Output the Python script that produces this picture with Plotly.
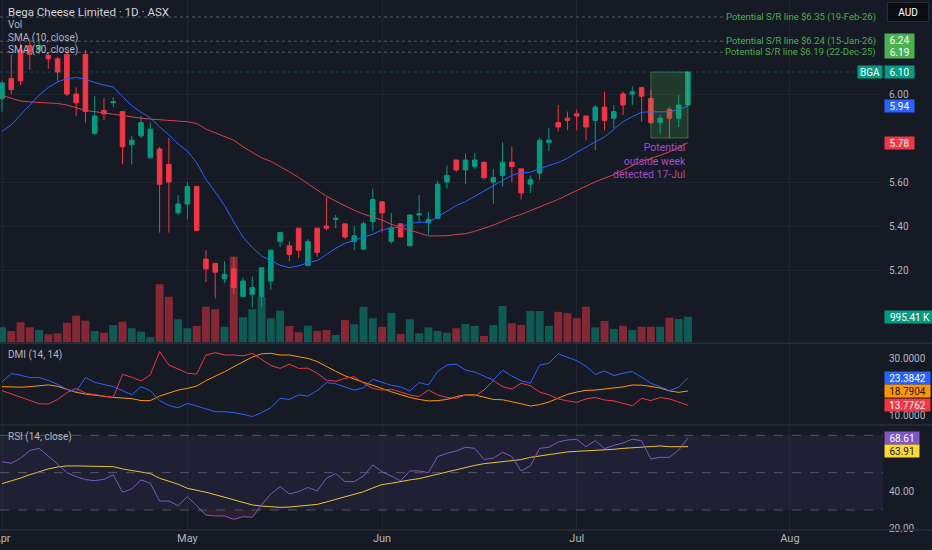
import numpy as np
import pandas as pd
import plotly.graph_objects as go

# ---------------- data ----------------
holidays = ["2026-04-03", "2026-04-06", "2026-06-08"]
month_labels = ["Apr", "May", "Jun", "Jul", "Aug"]

opens = [5.98, 6.07, 6.20, 6.22, 6.20, 6.175, 6.16, 6.18, 6.00, 6.18,
         5.82, 5.925, 5.96, 5.92, 5.77, 5.81, 5.71, 5.75, 5.68, 5.46,
         5.50, 5.58, 5.25, 5.23, 5.16, 5.205, 5.08, 5.09, 5.08, 5.15,
         5.33, 5.31, 5.39, 5.22, 5.39, 5.40, 5.43, 5.41, 5.33, 5.295,
         5.42, 5.51, 5.33, 5.41, 5.31, 5.45, 5.415, 5.435, 5.60, 5.70,
         5.655, 5.67, 5.69, 5.60, 5.63, 5.69, 5.66, 5.59, 5.64, 5.78,
         5.87, 5.89, 5.91, 5.90, 5.88, 5.94, 5.89, 6.00, 6.00, 6.03,
         5.98, 5.87, 5.93, 5.89, 5.95]
highs = [6.06, 6.18, 6.23, 6.25, 6.25, 6.19, 6.17, 6.19, 6.03, 6.20,
         5.99, 5.98, 5.985, 5.92, 5.81, 5.90, 5.87, 5.76, 5.80, 5.54,
         5.60, 5.58, 5.29, 5.23, 5.24, 5.26, 5.165, 5.17, 5.21, 5.29,
         5.375, 5.33, 5.39, 5.34, 5.39, 5.53, 5.45, 5.41, 5.40, 5.42,
         5.57, 5.51, 5.46, 5.41, 5.45, 5.54, 5.465, 5.605, 5.675, 5.70,
         5.73, 5.73, 5.69, 5.66, 5.78, 5.76, 5.66, 5.63, 5.80, 5.845,
         5.95, 5.92, 5.93, 5.90, 5.95, 6.01, 5.95, 6.01, 6.035, 6.03,
         6.02, 5.905, 5.94, 5.995, 6.10]
lows = [5.92, 6.00, 6.04, 6.11, 6.18, 6.115, 6.06, 5.99, 5.90, 5.87,
        5.815, 5.88, 5.94, 5.68, 5.68, 5.80, 5.71, 5.37, 5.37, 5.45,
        5.43, 5.38, 5.145, 5.07, 5.14, 5.09, 5.08, 5.03, 5.03, 5.11,
        5.305, 5.24, 5.255, 5.22, 5.26, 5.38, 5.39, 5.34, 5.29, 5.29,
        5.38, 5.37, 5.32, 5.35, 5.31, 5.42, 5.36, 5.43, 5.57, 5.645,
        5.59, 5.66, 5.61, 5.50, 5.58, 5.60, 5.52, 5.55, 5.61, 5.74,
        5.83, 5.835, 5.835, 5.79, 5.745, 5.835, 5.845, 5.905, 5.95, 5.875,
        5.865, 5.82, 5.80, 5.85, 5.95]
closes = [6.05, 6.02, 6.06, 6.18, 6.22, 6.16, 6.10, 6.00, 5.96, 5.92,
          5.90, 5.91, 5.965, 5.76, 5.79, 5.87, 5.84, 5.59, 5.60, 5.50,
          5.58, 5.38, 5.205, 5.19, 5.18, 5.12, 5.15, 5.12, 5.21, 5.29,
          5.37, 5.27, 5.29, 5.33, 5.28, 5.39, 5.435, 5.35, 5.355, 5.41,
          5.52, 5.46, 5.39, 5.35, 5.45, 5.455, 5.43, 5.59, 5.63, 5.655,
          5.70, 5.70, 5.62, 5.62, 5.69, 5.67, 5.55, 5.61, 5.79, 5.79,
          5.85, 5.88, 5.90, 5.85, 5.94, 5.88, 5.92, 5.95, 6.01, 5.99,
          5.87, 5.89, 5.89, 5.95, 6.10]
volume_k = [586, 444, 779, 586, 482, 316, 355, 764, 1034, 841,
            444, 378, 675, 802, 548, 417, 201, 2245, 1767, 895,
            548, 637, 1381, 1281, 610, 3310, 972, 1281, 1767, 934,
            1227, 637, 394, 648, 444, 482, 289, 868, 702, 1381,
            934, 610, 1150, 328, 895, 355, 586, 444, 378, 548,
            714, 637, 251, 675, 1408, 741, 675, 1215, 1215, 637,
            1188, 1127, 934, 1381, 586, 829, 521, 648, 482, 610,
            610, 610, 957, 907, 995.41]
# SMA values before enough closes exist in the window
sma10_head = [5.83, 5.86, 5.905, 5.95, 5.995, 6.03, 6.055, 6.07, 6.075]
sma30_head = [5.993, 5.98, 5.968, 5.964, 5.961, 5.959, 5.957, 5.95, 5.936, 5.925,
              5.92, 5.914, 5.905, 5.90, 5.894, 5.89, 5.886, 5.882, 5.879, 5.877,
              5.874, 5.866, 5.84, 5.823, 5.807, 5.79, 5.76, 5.736, 5.71]
plus_di = [22.0, 24.9, 24.3, 23.5, 23.5, 22.5, 21.1, 19.4, 18.5, 23.5,
           21.8, 21.1, 20.3, 18.9, 17.4, 20.3, 18.9, 15.4, 13.7, 12.9,
           14.4, 13.5, 12.5, 11.5, 11.5, 11.2, 10.6, 9.8, 11.2, 12.9,
           16.2, 15.8, 17.4, 17.0, 18.9, 21.7, 21.3, 20.2, 19.1, 19.9,
           22.9, 21.8, 20.8, 20.2, 18.8, 21.7, 20.9, 25.6, 27.9, 28.2,
           26.1, 25.4, 24.0, 22.6, 26.1, 24.0, 22.4, 21.5, 27.9, 28.5,
           31.8, 30.6, 29.4, 27.5, 24.6, 25.8, 24.2, 25.0, 25.6, 23.6,
           21.5, 20.3, 18.9, 20.1, 23.3842]
minus_di = [18.9, 17.7, 16.5, 15.4, 14.3, 14.2, 15.8, 18.2, 19.7, 18.0,
            17.5, 17.0, 16.5, 24.6, 23.6, 22.3, 24.4, 32.6, 27.9, 26.5,
            25.0, 24.7, 31.4, 32.2, 31.4, 31.4, 31.1, 32.0, 30.0, 27.7,
            26.7, 28.2, 26.7, 26.8, 25.0, 22.6, 22.2, 23.2, 23.8, 21.5,
            19.7, 19.1, 19.4, 18.5, 17.4, 16.8, 19.1, 17.4, 16.5, 16.2,
            17.4, 17.0, 19.1, 22.4, 20.3, 19.4, 21.5, 20.6, 18.4, 17.4,
            16.0, 15.3, 14.8, 16.0, 16.5, 15.6, 15.3, 14.4, 13.6, 16.2,
            15.4, 16.5, 16.0, 14.9, 13.7762]
adx = [20.3, 20.1, 20.1, 20.3, 20.6, 20.9, 20.4, 19.4, 18.3, 17.7,
       17.4, 16.9, 16.5, 16.4, 16.1, 15.4, 15.4, 17.0, 18.1, 19.1,
       19.7, 20.5, 22.4, 23.9, 25.5, 27.3, 28.9, 30.7, 31.8, 32.0,
       31.4, 31.4, 30.8, 30.2, 29.1, 27.3, 25.7, 24.1, 22.9, 21.8,
       20.8, 19.6, 18.5, 17.5, 16.5, 15.8, 15.3, 15.4, 15.8, 16.8,
       17.4, 17.4, 16.5, 15.8, 15.7, 15.1, 14.3, 13.5, 14.0, 14.9,
       16.2, 17.6, 18.4, 19.0, 19.1, 19.4, 19.8, 20.2, 20.9, 20.8,
       20.4, 19.8, 18.8, 18.3, 18.7904]
rsi = [55.9, 55.0, 57.7, 61.8, 63.0, 58.9, 54.6, 50.0, 47.9, 46.3,
       45.7, 46.4, 48.8, 39.5, 41.3, 46.1, 44.3, 34.8, 34.8, 32.3,
       37.1, 32.3, 27.3, 26.8, 26.8, 25.0, 26.4, 26.1, 32.7, 38.6,
       42.5, 38.6, 39.8, 42.1, 40.2, 47.0, 49.5, 45.2, 45.2, 48.2,
       54.1, 50.5, 47.9, 45.7, 50.9, 50.9, 50.0, 58.6, 60.4, 61.6,
       63.6, 63.0, 57.1, 57.7, 60.9, 58.6, 50.9, 53.6, 63.0, 63.6,
       66.4, 67.5, 67.9, 63.9, 67.1, 62.9, 64.6, 65.9, 67.9, 67.1,
       57.3, 58.2, 58.2, 62.1, 68.61]
rsi_ma = [44.1, 45.5, 47.1, 48.9, 50.5, 52.0, 53.0, 53.6, 53.6, 53.6,
          53.6, 53.4, 53.2, 52.0, 51.1, 50.4, 49.5, 47.0, 45.4, 43.8,
          41.6, 40.7, 39.5, 38.2, 36.8, 35.4, 33.8, 32.7, 32.1, 31.6,
          31.4, 31.6, 32.0, 32.5, 33.0, 34.3, 35.7, 37.0, 38.2, 39.8,
          41.8, 43.6, 44.3, 45.4, 46.1, 46.8, 48.0, 49.1, 50.5, 51.8,
          52.7, 53.9, 54.8, 55.4, 55.9, 56.4, 57.0, 58.2, 58.9, 60.0,
          60.5, 61.1, 61.4, 61.6, 61.8, 62.0, 62.5, 63.0, 63.4, 63.9,
          64.1, 64.3, 63.9, 63.9, 63.91]
sr_levels = [6.35, 6.24, 6.19]
sr_dates = ["19-Feb-26", "15-Jan-26", "22-Dec-25"]
price_ticks = [5.20, 5.40, 5.60, 6.00]
dmi_ticks = [10, 30]
rsi_ticks = [20, 40]
rsi_bands = [70, 50, 30]

# ---------------- derived ----------------
cal = pd.bdate_range("2026-04-01", "2026-08-31")
cal = cal[~cal.isin(pd.to_datetime(holidays))]
n = len(closes)
dates = cal[:n]
x = np.arange(n)
month_pos = [int(np.argmax(cal.strftime("%b") == m)) for m in month_labels]

cs = pd.Series(closes)
sma10 = cs.rolling(10).mean().to_numpy()
sma10[:len(sma10_head)] = sma10_head
sma30 = cs.rolling(30).mean().to_numpy()
sma30[:len(sma30_head)] = sma30_head

up = [c >= o for o, c in zip(opens, closes)]
vol_colors = ["rgba(8,153,129,0.5)" if u else "rgba(242,54,69,0.5)" for u in up]

last_week = dates.isocalendar().week == dates[-1].isocalendar().week
wk_idx = x[np.asarray(last_week)]
wk_hi = max(np.array(highs)[wk_idx])
wk_lo = min(np.array(lows)[wk_idx])

# ---------------- geometry ----------------
H = 530.0  # plot area height (px)
def py(px):
    return 1 - px / H

BG = "#161a25"
GRID = "rgba(42,46,57,0.55)"
TXT = "#b2b5be"
FONT = "Roboto"
UP, DOWN = "#089981", "#f23645"

fig = go.Figure()

fig.add_trace(go.Bar(x=x, y=volume_k, marker=dict(color=vol_colors, line=dict(width=0)),
                     width=0.86, xaxis="x", yaxis="y", hoverinfo="skip"))
fig.add_trace(go.Candlestick(x=x, open=opens, high=highs, low=lows, close=closes,
                             increasing=dict(line=dict(color=UP, width=1), fillcolor=UP),
                             decreasing=dict(line=dict(color=DOWN, width=1), fillcolor=DOWN),
                             whiskerwidth=0, xaxis="x", yaxis="y2"))
fig.add_trace(go.Scatter(x=x, y=sma30, mode="lines", line=dict(color="#d9404b", width=1),
                         xaxis="x", yaxis="y2"))
fig.add_trace(go.Scatter(x=x, y=sma10, mode="lines", line=dict(color="#2962ff", width=1),
                         xaxis="x", yaxis="y2"))

fig.add_trace(go.Scatter(x=x, y=adx, mode="lines", line=dict(color="#ff9800", width=1), xaxis="x", yaxis="y3"))
fig.add_trace(go.Scatter(x=x, y=minus_di, mode="lines", line=dict(color="#f23645", width=1), xaxis="x", yaxis="y3"))
fig.add_trace(go.Scatter(x=x, y=plus_di, mode="lines", line=dict(color="#2962ff", width=1), xaxis="x", yaxis="y3"))

# oversold fill (RSI below 30)
fig.add_trace(go.Scatter(x=x, y=[30] * n, mode="lines", line=dict(width=0), xaxis="x", yaxis="y4"))
fig.add_trace(go.Scatter(x=x, y=np.minimum(rsi, 30), mode="lines", line=dict(width=0), fill="tonexty",
                         fillcolor="rgba(190,60,120,0.14)", xaxis="x", yaxis="y4"))
fig.add_trace(go.Scatter(x=x, y=rsi_ma, mode="lines", line=dict(color="#e8c53a", width=1), xaxis="x", yaxis="y4"))
fig.add_trace(go.Scatter(x=x, y=rsi, mode="lines", line=dict(color="#7e57c2", width=1), xaxis="x", yaxis="y4"))

shapes = []
# RSI band
shapes.append(dict(type="rect", xref="paper", x0=0, x1=1, yref="y4", y0=30, y1=70,
                   fillcolor="rgba(126,87,194,0.10)", line=dict(width=0), layer="below"))
for b in rsi_bands:
    shapes.append(dict(type="line", xref="paper", x0=0, x1=1, yref="y4", y0=b, y1=b,
                       line=dict(color="rgba(120,123,134,0.6)", width=1, dash="dash")))
# S/R dotted lines
for lv in sr_levels:
    shapes.append(dict(type="line", xref="paper", x0=0, x1=725 / 883, yref="y2", y0=lv, y1=lv,
                       line=dict(color="#5d606b", width=1, dash="dot")))
# last price line
shapes.append(dict(type="line", xref="paper", x0=0, x1=1, yref="y2", y0=closes[-1], y1=closes[-1],
                   line=dict(color="rgba(8,153,129,0.35)", width=1, dash="dot")))
# outside week box
shapes.append(dict(type="rect", xref="x", x0=wk_idx[0], x1=wk_idx[-1], yref="y2", y0=wk_lo, y1=wk_hi,
                   fillcolor="rgba(76,175,80,0.22)", line=dict(color="rgba(102,187,106,0.45)", width=1)))
# panel separators
for sp in [343.3, 425.0, 530.0]:
    shapes.append(dict(type="line", xref="paper", x0=0, x1=932 / 883, yref="paper", y0=py(sp), y1=py(sp),
                       line=dict(color="#2a2e39", width=1.5)))

ann = []
def legend_text(t, ypx, color=TXT, size=10):
    ann.append(dict(xref="paper", x=6 / 883, xanchor="left", yref="paper", y=py(ypx), yanchor="middle",
                    text=t, showarrow=False, font=dict(family=FONT, size=size, color=color)))

legend_text("Bega Cheese Limited · 1D · ASX", 12, "#d1d4dc", 11.5)
legend_text("Vol", 25)
legend_text("SMA (10, close)", 38)
legend_text("SMA (30, close)", 50)
legend_text("DMI (14, 14)", 355)
legend_text("RSI (14, close)", 437)

for lv, d in zip(sr_levels, sr_dates):
    ann.append(dict(xref="paper", x=878 / 883, xanchor="right", yref="y2", y=lv, yanchor="middle",
                    text=f"Potential S/R line ${lv:.2f} ({d})", showarrow=False,
                    font=dict(family=FONT, size=9.5, color="#4caf50")))

ann.append(dict(xref="x", x=wk_idx[-1], xanchor="right", yref="y2", y=wk_lo, yanchor="top", yshift=-1,
                text=f"Potential<br>outside week<br>detected {dates[-1].day}-{dates[-1].strftime('%b')}",
                align="right", showarrow=False, font=dict(family=FONT, size=10.5, color="#a64bc4")))

def box(t, yref, y, bg, fg="#ffffff", shift=0):
    ann.append(dict(xref="paper", x=1, xanchor="left", xshift=1, yref=yref, y=y, yanchor="middle",
                    yshift=shift, text=t, showarrow=False, bgcolor=bg,
                    font=dict(family=FONT, size=10, color=fg),
                    width=round(5.3 * len(t) + 6), height=10, borderpad=1, align="center"))

box(f"{sr_levels[1]:.2f}", "y2", sr_levels[1], "#4caf50", shift=1)
box(f"{sr_levels[2]:.2f}", "y2", sr_levels[2], "#4caf50")
box(f"{closes[-1]:.2f}", "y2", closes[-1], UP)
box(f"{sma10[-1]:.2f}", "y2", sma10[-1], "#2962ff")
box(f"{sma30[-1]:.2f}", "y2", sma30[-1], "#f23645")
box(f"{volume_k[-1]:.2f} K", "y", volume_k[-1], UP)
box(f"{plus_di[-1]:.4f}", "y3", plus_di[-1], "#2962ff")
box(f"{adx[-1]:.4f}", "y3", adx[-1], "#ff9800", "#131722")
box(f"{minus_di[-1]:.4f}", "y3", minus_di[-1], "#f23645")
box(f"{rsi[-1]:.2f}", "y4", rsi[-1], "#7e57c2")
box(f"{rsi_ma[-1]:.2f}", "y4", rsi_ma[-1], "#fdd835", "#131722", shift=-4)
ann.append(dict(xref="paper", x=1, xanchor="right", yref="y2", y=closes[-1], yanchor="middle",
                text="BGA", showarrow=False, bgcolor=UP, font=dict(family=FONT, size=10, color="#ffffff"),
                width=22, height=10, borderpad=1))
ann.append(dict(xref="paper", x=1, xanchor="left", xshift=4, yref="paper", y=py(12), yanchor="middle",
                text="AUD", showarrow=False, bgcolor="#0c0e14", bordercolor="#2a2e39", borderwidth=1,
                font=dict(family=FONT, size=10, color="#ffffff"), width=38, height=16))

# axis ranges from pixel geometry
price_top, price_bot = 6.00 + 94 / 220, 6.00 - (342.5 - 94) / 220
vol_max = 342.5 * (volume_k[-1] / 25.8)

fig.update_layout(
    width=932, height=550, margin=dict(l=0, r=49, t=0, b=20, autoexpand=False),
    paper_bgcolor=BG, plot_bgcolor=BG, showlegend=False, hovermode=False,
    font=dict(family=FONT, color=TXT, size=10),
    xaxis=dict(range=[-0.216, 95.04], anchor="y4", tickvals=month_pos, ticktext=month_labels,
               showgrid=True, gridcolor=GRID, zeroline=False, showline=False, ticks="",
               ticklabeloverflow="allow", automargin=False,
               tickfont=dict(size=11, color=TXT), rangeslider=dict(visible=False), fixedrange=True),
    yaxis=dict(domain=[py(342.5), 1], range=[0, vol_max], visible=False, fixedrange=True),
    yaxis2=dict(overlaying="y", anchor="x", side="right", range=[price_bot, price_top],
                tickvals=price_ticks, ticktext=[f"{v:.2f}" for v in price_ticks],
                showgrid=True, gridcolor=GRID, zeroline=False, ticks="", ticklabelstandoff=5,
                automargin=False, tickfont=dict(size=10, color=TXT)),
    yaxis3=dict(domain=[py(424), py(344)], anchor="x", side="right", range=[7.19, 35.26],
                tickvals=dmi_ticks, ticktext=[f"{v:.4f}" for v in dmi_ticks],
                showgrid=False, zeroline=False, ticks="", ticklabelstandoff=5,
                automargin=False, tickfont=dict(size=10, color=TXT)),
    yaxis4=dict(domain=[0, py(426)], anchor="x", side="right", range=[19.28, 74.98],
                tickvals=rsi_ticks, ticktext=[f"{v:.2f}" for v in rsi_ticks],
                showgrid=False, zeroline=False, ticks="", ticklabelstandoff=5,
                automargin=False, tickfont=dict(size=10, color=TXT)),
    shapes=shapes, annotations=ann,
)

fig.write_html("out.html", config={"displayModeBar": False, "staticPlot": True},
               post_script="document.body.style.margin='0';document.body.style.overflow='hidden';"
                           "document.body.style.background='" + BG + "';")
